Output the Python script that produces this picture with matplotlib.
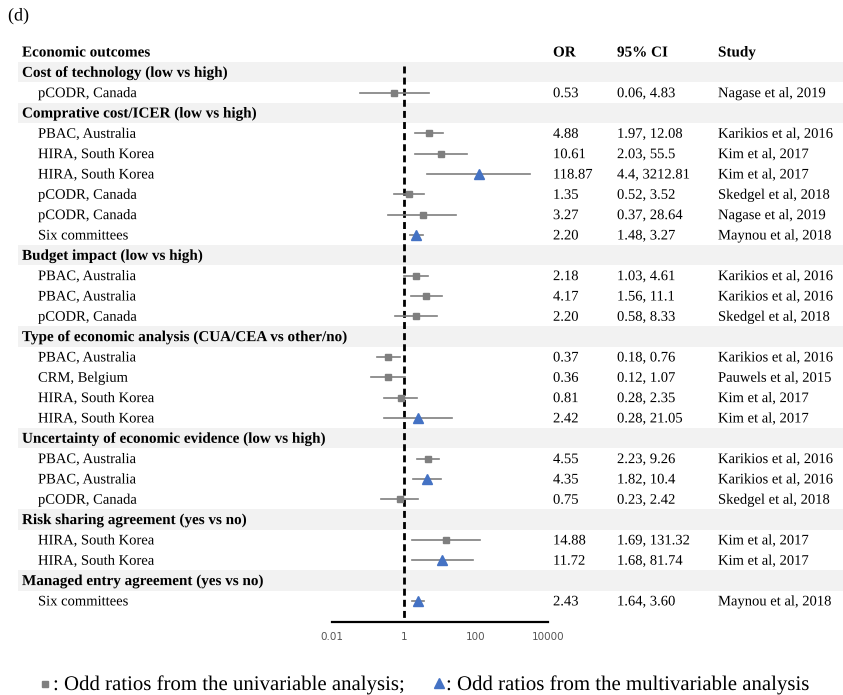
import matplotlib
matplotlib.use("Agg")
import matplotlib.pyplot as plt
import matplotlib.patheffects as pe

# ---- data ----
group_names = [
    "Cost of technology (low vs high)",
    "Comprative cost/ICER (low vs high)",
    "Budget impact (low vs high)",
    "Type of economic analysis (CUA/CEA vs other/no)",
    "Uncertainty of economic evidence (low vs high)",
    "Risk sharing agreement (yes vs no)",
    "Managed entry agreement (yes vs no)",
]
group_sizes = [1, 6, 3, 4, 3, 2, 1]

item_labels = [
    "pCODR, Canada",
    "PBAC, Australia", "HIRA, South Korea", "HIRA, South Korea",
    "pCODR, Canada", "pCODR, Canada", "Six committees",
    "PBAC, Australia", "PBAC, Australia", "pCODR, Canada",
    "PBAC, Australia", "CRM, Belgium", "HIRA, South Korea", "HIRA, South Korea",
    "PBAC, Australia", "PBAC, Australia", "pCODR, Canada",
    "HIRA, South Korea", "HIRA, South Korea",
    "Six committees",
]
or_text = ["0.53", "4.88", "10.61", "118.87", "1.35", "3.27", "2.20",
           "2.18", "4.17", "2.20", "0.37", "0.36", "0.81", "2.42",
           "4.55", "4.35", "0.75", "14.88", "11.72", "2.43"]
ci_low = [0.06, 1.97, 2.03, 4.4, 0.52, 0.37, 1.48,
          1.03, 1.56, 0.58, 0.18, 0.12, 0.28, 0.28,
          2.23, 1.82, 0.23, 1.69, 1.68, 1.64]
ci_high = [4.83, 12.08, 55.5, 3212.81, 3.52, 28.64, 3.27,
           4.61, 11.1, 8.33, 0.76, 1.07, 2.35, 21.05,
           9.26, 10.4, 2.42, 131.32, 81.74, 3.60]
ci_text = ["0.06, 4.83", "1.97, 12.08", "2.03, 55.5", "4.4, 3212.81",
           "0.52, 3.52", "0.37, 28.64", "1.48, 3.27", "1.03, 4.61",
           "1.56, 11.1", "0.58, 8.33", "0.18, 0.76", "0.12, 1.07",
           "0.28, 2.35", "0.28, 21.05", "2.23, 9.26", "1.82, 10.4",
           "0.23, 2.42", "1.69, 131.32", "1.68, 81.74", "1.64, 3.60"]
studies = ["Nagase et al, 2019", "Karikios et al, 2016", "Kim et al, 2017",
           "Kim et al, 2017", "Skedgel et al, 2018", "Nagase et al, 2019",
           "Maynou et al, 2018", "Karikios et al, 2016", "Karikios et al, 2016",
           "Skedgel et al, 2018", "Karikios et al, 2016", "Pauwels et al, 2015",
           "Kim et al, 2017", "Kim et al, 2017", "Karikios et al, 2016",
           "Karikios et al, 2016", "Skedgel et al, 2018", "Kim et al, 2017",
           "Kim et al, 2017", "Maynou et al, 2018"]
# u = univariable (square), m = multivariable (triangle)
analysis = ["u", "u", "u", "m", "u", "u", "m", "u", "u", "u",
            "u", "u", "u", "m", "u", "m", "u", "u", "m", "m"]

x_ticks = [0.01, 1, 100, 10000]
x_tick_labels = ["0.01", "1", "100", "10000"]

# ---- layout ----
W, H = 843, 695
serif = "Liberation Serif"
fs = 10.5
fsb = 10.9
grey = "#7f7f7f"
blue = "#4472c4"
band = "#f2f2f2"
row0, dy = 52, 20.33
off = 4.5  # baseline offset below row centre (px)
flat = [pe.Normal()]  # draw glyphs as paths so baselines line up

fig = plt.figure(figsize=(W / 100, H / 100), dpi=100)
bg = fig.add_axes([0, 0, 1, 1])
bg.set_xlim(0, W)
bg.set_ylim(H, 0)
bg.axis("off")


def txt(x, y, s, size=fs, **kw):
    bg.text(x, y + off, s, fontsize=size, family=serif, va="baseline",
            path_effects=flat, **kw)


txt(8, 16, "(d)", size=13)

# header
txt(22, row0, "Economic outcomes", size=fsb, weight="bold")
for x, t in [(553, "OR"), (617, "95% CI"), (718, "Study")]:
    txt(x, row0, t, size=fsb, weight="bold")

# build rows
rows = []  # (row index, kind, item index)
r = 1
k = 0
for gi, g in enumerate(group_names):
    rows.append((r, "g", gi))
    r += 1
    for _ in range(group_sizes[gi]):
        rows.append((r, "i", k))
        r += 1
        k += 1

item_rows = []
for ri, kind, idx in rows:
    y = row0 + ri * dy
    if kind == "g":
        bg.axhspan(y - dy / 2, y + dy / 2, xmin=18 / W, xmax=1,
                   color=band, zorder=0, lw=0)
        txt(22, y, group_names[idx], size=fsb, weight="bold")
    else:
        item_rows.append(ri)
        txt(38, y, item_labels[idx])
        txt(553, y, or_text[idx])
        txt(617, y, ci_text[idx])
        txt(718, y, studies[idx])

# ---- forest plot ----
ax_top, ax_bot = 40, 622
ax_l, ax_r = 332, 548
ax = fig.add_axes([ax_l / W, (H - ax_bot) / H, (ax_r - ax_l) / W,
                   (ax_bot - ax_top) / H])
ax.patch.set_alpha(0)
ax.set_xscale("log")
ax.set_xlim(0.01, 10000)
ax.set_ylim((ax_bot - row0) / dy, (ax_top - row0) / dy)

ors = [float(v) for v in or_text]
for i, ri in enumerate(item_rows):
    ax.plot([ci_low[i], ci_high[i]], [ri, ri], color=grey, lw=1.2, zorder=2)
    if analysis[i] == "u":
        ax.plot(ors[i], ri, marker="s", ms=4.8, color=grey, zorder=3)
    else:
        ax.plot(ors[i], ri, marker="^", ms=7, color=blue, zorder=3)

ax.plot([1, 1], [0.7, (ax_bot - row0) / dy], color="black", lw=2,
        ls=(0, (2.5, 1.5)), zorder=1)

for s in ["top", "right", "left"]:
    ax.spines[s].set_visible(False)
ax.spines["bottom"].set_linewidth(1.6)
ax.set_yticks([])
ax.set_xticks(x_ticks)
ax.set_xticklabels(x_tick_labels)
ax.minorticks_off()
ax.tick_params(axis="x", length=0, pad=7, labelsize=7.5, labelcolor="#555555")

# ---- legend line ----
ly = 684
bg.plot(45, ly, marker="s", ms=4, color=grey)
bg.text(53, ly + 6, ": Odd ratios from the univariable analysis;", fontsize=15,
        family=serif, va="baseline", path_effects=flat)
bg.plot(439, ly - 1, marker="^", ms=6.5, color=blue)
bg.text(446, ly + 6, ": Odd ratios from the multivariable analysis",
        fontsize=15, family=serif, va="baseline", path_effects=flat)

fig.savefig("out.png", dpi=100)
